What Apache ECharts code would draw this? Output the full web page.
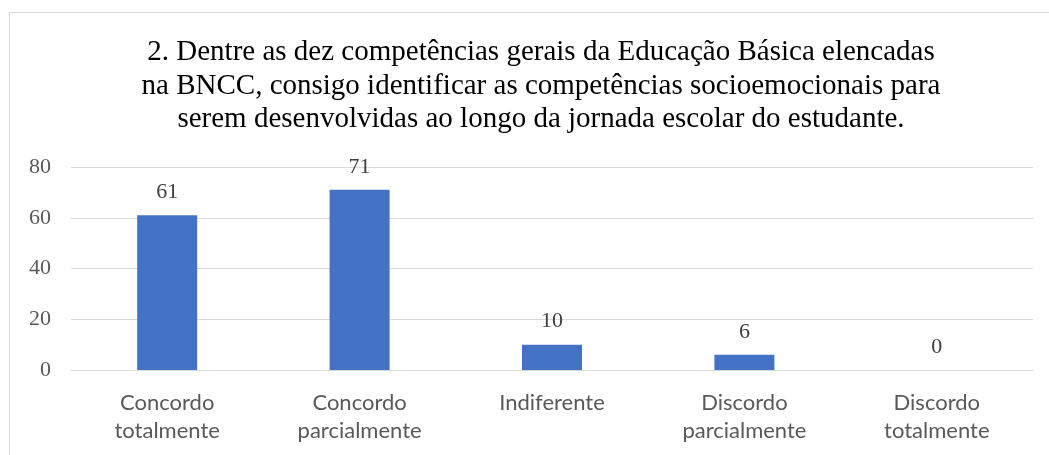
<!DOCTYPE html>
<html><head><meta charset="utf-8">
<script src="https://cdn.jsdelivr.net/npm/echarts@6/dist/echarts.min.js"></script>
<style>html,body{margin:0;padding:0;background:#fff}#c{width:1049px;height:455px}</style>
</head><body><div id="c"></div>
<script>
const categories = ['Concordo\ntotalmente', 'Concordo\nparcialmente', 'Indiferente', 'Discordo\nparcialmente', 'Discordo\ntotalmente'];
const values = [61, 71, 10, 6, 0];
const titleText = '2. Dentre as dez competências gerais da Educação Básica elencadas\nna BNCC, consigo identificar as competências socioemocionais para\nserem desenvolvidas ao longo da jornada escolar do estudante.';
const yTicks = [0, 20, 40, 60, 80];

const chart = echarts.init(document.getElementById('c'), null, {renderer: 'canvas'});
chart.setOption({
  animation: false,
  graphic: [{
    type: 'rect', shape: {x: 9.5, y: 12.5, width: 1100, height: 500},
    style: {fill: 'none', stroke: '#d9d9d9', lineWidth: 1}, silent: true
  }],
  title: {
    text: titleText,
    left: 536, top: 31, textAlign: 'center',
    textStyle: {fontFamily: 'Liberation Serif', fontSize: 29, fontWeight: 'normal', color: '#000', lineHeight: 33.5}
  },
  grid: {left: 71, right: 16, top: 167, bottom: 85, containLabel: false},
  xAxis: {
    type: 'category', data: categories,
    axisLine: {show: false}, axisTick: {show: false},
    axisLabel: {fontFamily: 'Lato', fontSize: 22, color: '#595959', lineHeight: 28, margin: 19, interval: 0}
  },
  yAxis: {
    type: 'value', min: 0, max: 80, interval: 20,
    axisLine: {show: false}, axisTick: {show: false},
    axisLabel: {fontFamily: 'Liberation Serif', fontSize: 22, color: '#595959', margin: 20},
    splitLine: {lineStyle: {color: '#d9d9d9', width: 1}}
  },
  series: [{
    type: 'bar', data: values, barWidth: 60,
    itemStyle: {color: '#4472C4'},
    label: {show: true, position: 'top', distance: 12, fontFamily: 'Liberation Serif', fontSize: 22, color: '#404040'}
  }]
});
</script></body></html>
